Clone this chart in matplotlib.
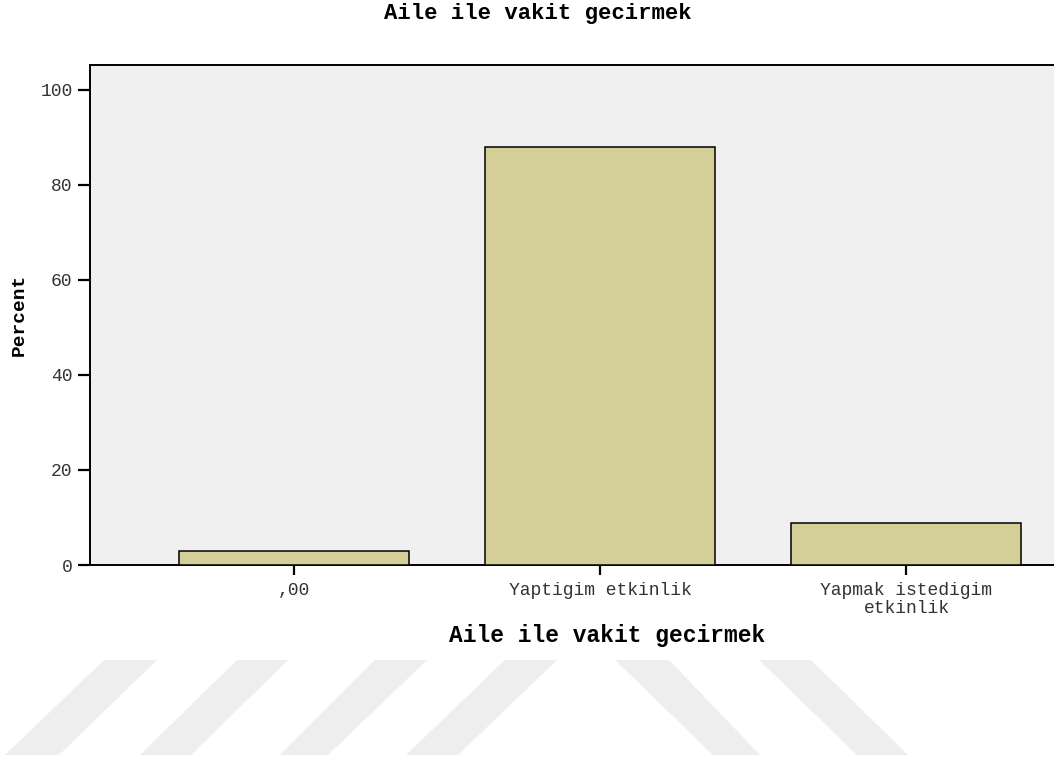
import numpy as np
from matplotlib import pyplot as plt
from matplotlib.patches import Polygon

categories = [',00', 'Yaptigim etkinlik', 'Yapmak istedigim\netkinlik']
percent = [3.0, 88.1, 8.9]
yticks = [0, 20, 40, 60, 80, 100]

title = 'Aile ile vakit gecirmek'
xlabel = 'Aile ile vakit gecirmek'
ylabel = 'Percent'

W, H = 1054, 760
fig = plt.figure(figsize=(W / 100, H / 100), dpi=100)

# faint watermark stripes in the bottom margin (pixel coords, y from top)
stripes = [
    [(104, 660), (157, 660), (59, 755), (5, 755)],
    [(237, 660), (288, 660), (191, 755), (140, 755)],
    [(375, 660), (427, 660), (328, 755), (280, 755)],
    [(505, 660), (557, 660), (458, 755), (406, 755)],
    [(615, 660), (669, 660), (760, 755), (713, 755)],
    [(759, 660), (811, 660), (908, 755), (857, 755)],
]
for s in stripes:
    pts = [(x / W, 1 - y / H) for x, y in s]
    fig.add_artist(Polygon(pts, closed=True, transform=fig.transFigure,
                           facecolor='#eeeeee', edgecolor='none', zorder=0))

# axes runs off the right side of the image like the original crop
ax = fig.add_axes([90 / W, (H - 565) / H, (1110 - 90) / W, 500 / H])
ax.set_facecolor('#f0f0f0')

x = np.arange(len(categories))
ax.bar(x, percent, width=0.751, color='#d4cf98', edgecolor='black', linewidth=1.1, zorder=3)

ax.set_xlim(-0.6645, 2.6645)
ax.set_ylim(0, 105.26)
ax.set_yticks(yticks)
ax.set_yticklabels([str(t) for t in yticks])
ax.set_xticks(x)
ax.set_xticklabels(categories, linespacing=1.1)

mono = 'Liberation Mono'
for lab in ax.get_xticklabels() + ax.get_yticklabels():
    lab.set_fontfamily(mono)
    lab.set_fontsize(13)
    lab.set_color('#333333')

ax.tick_params(axis='y', length=8.6, width=1.6, pad=4, color='black')
ax.tick_params(axis='x', length=7.2, width=1.6, pad=5, color='black')

for side in ['left', 'bottom', 'top']:
    ax.spines[side].set_color('black')
    ax.spines[side].set_linewidth(1.4)
ax.spines['right'].set_visible(False)

fig.text(538 / W, 1 - 19 / H, title, ha='center', va='baseline',
         fontfamily=mono, fontweight='bold', fontsize=16)
fig.text(607 / W, 1 - 642 / H, xlabel, ha='center', va='baseline',
         fontfamily=mono, fontweight='bold', fontsize=16.5)
fig.text(19 / W, 1 - 315 / H, ylabel, ha='center', va='center', rotation=90,
         fontfamily=mono, fontweight='bold', fontsize=14)

plt.savefig('out.png', dpi=100)
plt.close()
